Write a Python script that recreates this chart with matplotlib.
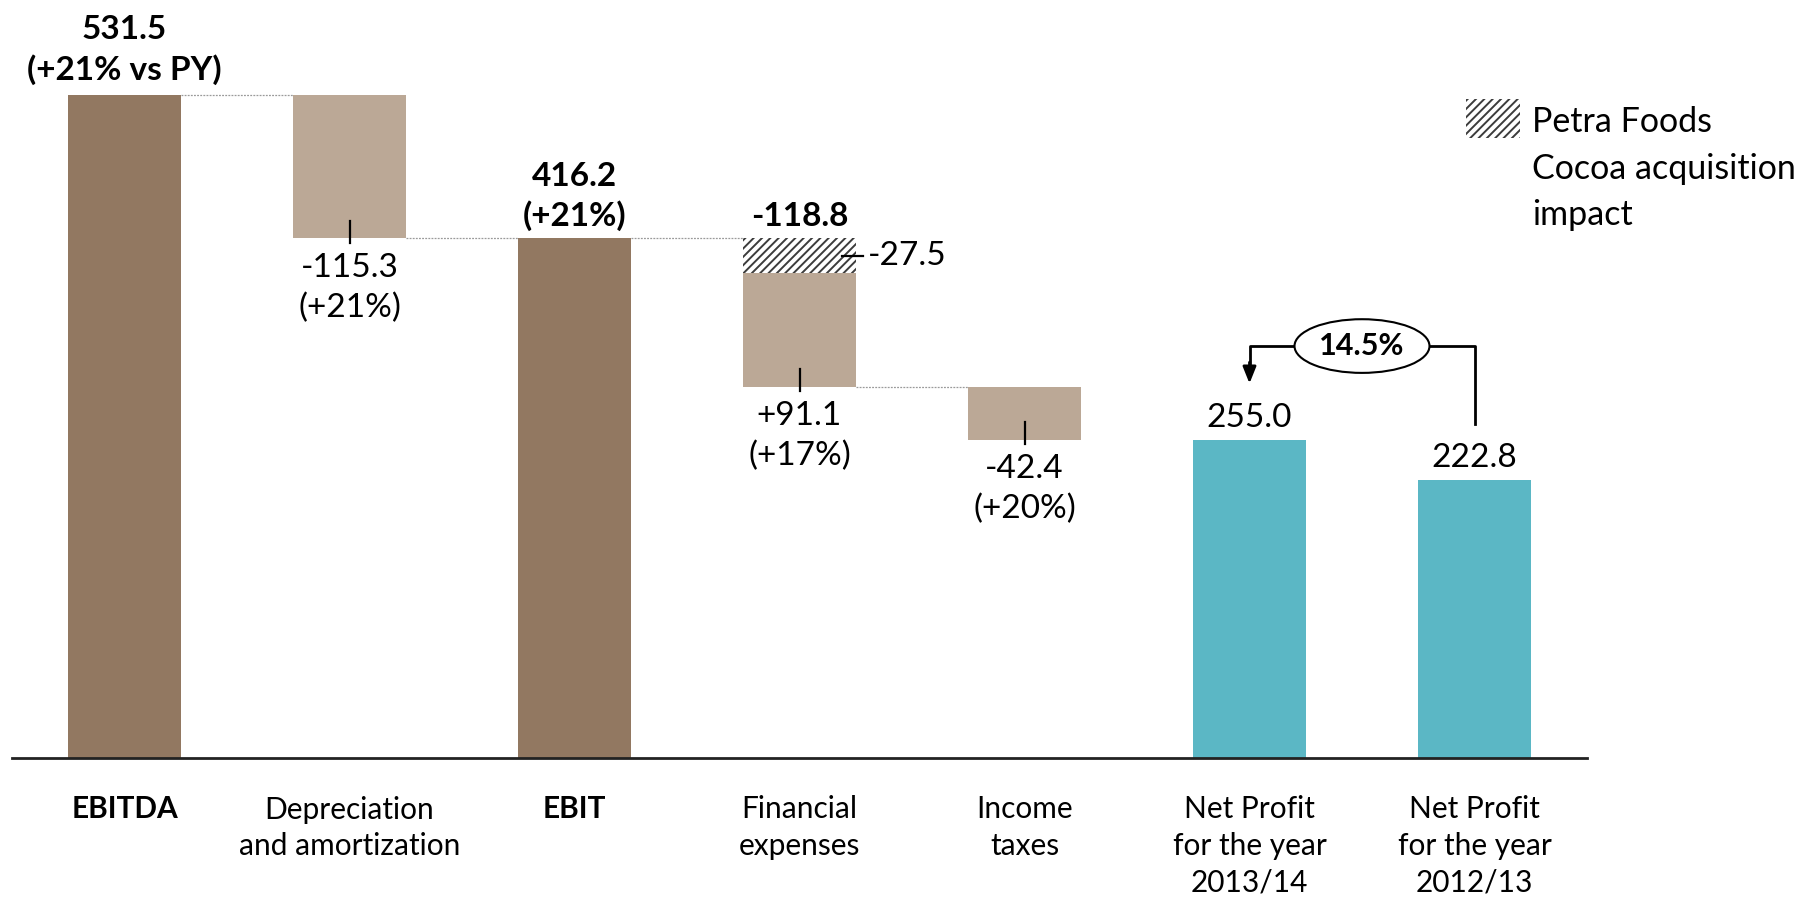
import numpy as np
import matplotlib
matplotlib.use("Agg")
import matplotlib.pyplot as plt
from matplotlib.patches import Rectangle, Ellipse

plt.rcParams["font.family"] = ["Lato", "DejaVu Sans"]
plt.rcParams["hatch.linewidth"] = 1.4

# data
categories = ["EBITDA", "Depreciation\nand amortization", "EBIT", "Financial\nexpenses",
              "Income\ntaxes", "Net Profit\nfor the year\n2013/14", "Net Profit\nfor the year\n2012/13"]
values = [531.5, -115.3, 416.2, -118.8, -42.4, 255.0, 222.8]
is_total = [True, False, True, False, False, True, True]
petra_impact = -27.5
above_labels = ["531.5\n(+21% vs PY)", None, "416.2\n(+21%)", "-118.8", None, "255.0", "222.8"]
above_bold = [True, False, True, True, False, False, False]
below_labels = [None, "-115.3\n(+21%)", None, "+91.1\n(+17%)", "-42.4\n(+20%)", None, None]
growth_label = "14.5%"
legend_label = "Petra Foods\nCocoa acquisition\nimpact"

c_total = "#927861"
c_delta = "#BBA896"
c_np = "#5BB7C5"
colors = [c_total, c_delta, c_total, c_delta, c_delta, c_np, c_np]
hatch_col = "#3c3c3c"

fig = plt.figure(figsize=(18.16, 9.02), dpi=100)
ax = fig.add_axes([12/1816, 144/902, 1575/1816, 749/902])

x = np.arange(len(values))
w = 0.5
bottoms = []
tops = []
level = 0.0
for i, v in enumerate(values):
    if is_total[i]:
        b, t = 0.0, v
        level = v
    else:
        t = level
        level = level + v
        b = level
    bottoms.append(b)
    tops.append(t)

for i in range(len(values)):
    if i == 3:
        # financial expenses split: acquisition part hatched on top
        mid = tops[i] + petra_impact
        ax.bar(x[i], mid - bottoms[i], bottom=bottoms[i], width=w, color=colors[i], lw=0)
        ax.bar(x[i], tops[i] - mid, bottom=mid, width=w, facecolor="white",
               edgecolor=hatch_col, hatch="////", lw=0)
    else:
        ax.bar(x[i], tops[i] - bottoms[i], bottom=bottoms[i], width=w, color=colors[i], lw=0)

# connectors
for i in range(4):
    lv = tops[i] if is_total[i] else bottoms[i]
    ax.plot([x[i] + w/2, x[i+1] - w/2], [lv, lv], color="#9a9a9a", lw=0.9, ls=(0, (1.5, 1)))

# labels above
for i, lab in enumerate(above_labels):
    if lab is None:
        continue
    off = 7 if i == 0 else 5
    ax.annotate(lab, (x[i], tops[i]), xytext=(0, off), textcoords="offset points",
                ha="center", va="bottom", fontsize=24, linespacing=1.38,
                fontweight="bold" if above_bold[i] else "normal")

# labels below with small tick
for i, lab in enumerate(below_labels):
    if lab is None:
        continue
    ax.plot([x[i], x[i]], [bottoms[i] + 14, bottoms[i] - 3.5], color="black", lw=1.6)
    ax.annotate(lab, (x[i], bottoms[i]), xytext=(0, -10.5), textcoords="offset points",
                ha="center", va="top", fontsize=24, linespacing=1.38)

# acquisition impact label
ymid = tops[3] + petra_impact / 2
ax.plot([x[3] + 0.19, x[3] + 0.28], [ymid, ymid], color="black", lw=1.6)
ax.text(x[3] + 0.305, ymid, "%.1f" % petra_impact, ha="left", va="center", fontsize=24)

# growth bracket between the two net profit bars
yb = values[5] + 75
ax.plot([x[6], x[6], x[5], x[5]], [values[6] + 45, yb, yb, values[5] + 60], color="black", lw=2)
ax.annotate("", xy=(x[5], values[5] + 45), xytext=(x[5], values[5] + 62),
            arrowprops=dict(arrowstyle="-|>,head_length=1.0,head_width=0.4", color="black", lw=2,
                            shrinkA=0, shrinkB=0))
ax.add_patch(Ellipse(((x[5] + x[6]) / 2, yb), 0.6, 43, facecolor="white", edgecolor="black",
                     lw=1.5, zorder=3))
ax.text((x[5] + x[6]) / 2, yb, growth_label, ha="center", va="center", fontsize=22,
        fontweight="bold", zorder=4)

# legend
fig.patches.append(Rectangle((1466/1816, 1 - 138/902), 54/1816, 39/902, transform=fig.transFigure,
                             facecolor="white", edgecolor=hatch_col, hatch="////", lw=0))
fig.text(1532/1816, 1 - 106/902, legend_label, ha="left", va="top", fontsize=24.5,
         linespacing=1.56)

ax.set_xlim(-0.5, 6.5)
ax.set_ylim(0, 600)
for s in ["top", "right", "left"]:
    ax.spines[s].set_visible(False)
ax.spines["bottom"].set_linewidth(2)
ax.spines["bottom"].set_color("#222222")
ax.set_yticks([])
ax.set_xticks(x)
ax.set_xticklabels(categories, fontsize=21.5, linespacing=1.36)
ax.tick_params(axis="x", length=0, pad=27)
for i, t in enumerate(ax.get_xticklabels()):
    if i in (0, 2):
        t.set_fontweight("bold")

fig.savefig("out.png", dpi=100)
